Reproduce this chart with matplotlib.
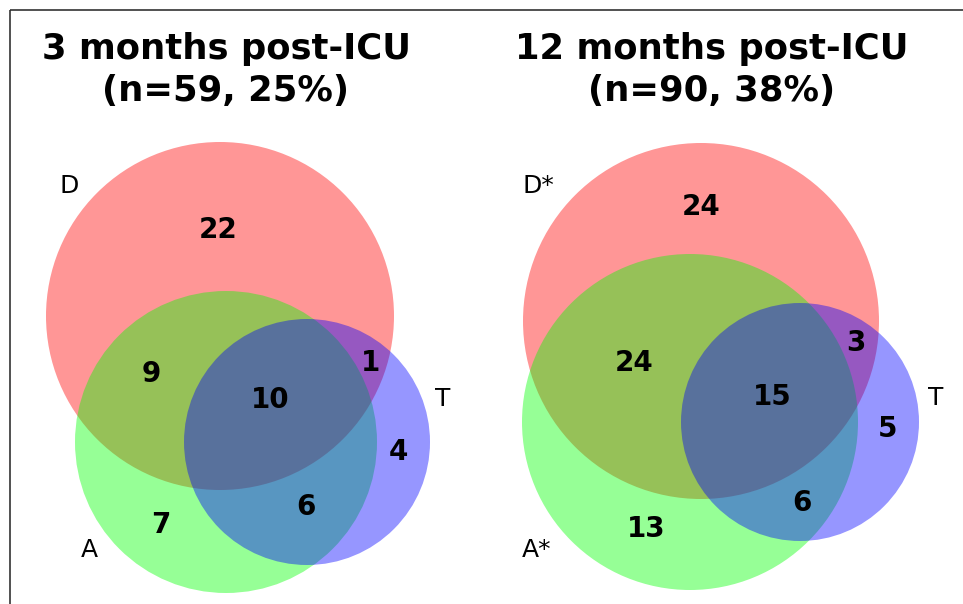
import matplotlib
matplotlib.use('Agg')
import matplotlib.pyplot as plt
from matplotlib.patches import Circle, Rectangle

# panel titles
titles = ['3 months post-ICU\n(n=59, 25%)', '12 months post-ICU\n(n=90, 38%)']

# set labels per panel (D = depression, A = anxiety, T = PTSD)
set_labels = [['D', 'A', 'T'], ['D*', 'A*', 'T']]

# region counts: D only, A only, T only, D&A, D&T, A&T, D&A&T
regions = ['D', 'A', 'T', 'DA', 'DT', 'AT', 'DAT']
counts_3m = [22, 7, 4, 9, 1, 6, 10]
counts_12m = [24, 13, 5, 24, 3, 6, 15]

# layout (pixel coordinates of the 963x604 canvas)
circles = [
    [(220, 316, 174), (226, 442, 151), (307, 442, 123)],
    [(701, 321, 178), (690, 422, 168), (800, 422, 119)],
]
count_pos = [
    {'D': (218, 230), 'A': (161, 525), 'T': (398, 452), 'DA': (151, 374),
     'DT': (371, 363), 'AT': (306, 507), 'DAT': (270, 400)},
    {'D': (701, 207), 'A': (646, 529), 'T': (888, 429), 'DA': (634, 363),
     'DT': (856, 343), 'AT': (802, 503), 'DAT': (772, 397)},
]
label_pos = [
    [(69, 186), (89, 550), (443, 399)],
    [(538, 186), (537, 550), (936, 398)],
]
title_x = [226, 712]
colors = ['red', 'lime', 'blue']
alpha = 0.41

fig = plt.figure(figsize=(9.63, 6.04), dpi=100)
ax = fig.add_axes([0, 0, 1, 1])
ax.set_xlim(0, 963)
ax.set_ylim(604, 0)
ax.axis('off')

# outer frame
ax.add_patch(Rectangle((10, 10), 980, 620, fill=False, edgecolor='#333333', lw=1.2))

for p, counts in enumerate([counts_3m, counts_12m]):
    for (cx, cy, r), c in zip(circles[p], colors):
        ax.add_patch(Circle((cx, cy), r, facecolor=c, edgecolor='none', alpha=alpha))
    for reg, n in zip(regions, counts):
        x, y = count_pos[p][reg]
        ax.text(x, y, str(n), ha='center', va='center', fontsize=20, fontweight='bold')
    for lab, (x, y) in zip(set_labels[p], label_pos[p]):
        ax.text(x, y, lab, ha='center', va='center', fontsize=18)
    ax.text(title_x[p], 70, titles[p], ha='center', va='center', fontsize=25.5,
            fontweight='bold', linespacing=1.3)

fig.savefig('out.png', dpi=100)
